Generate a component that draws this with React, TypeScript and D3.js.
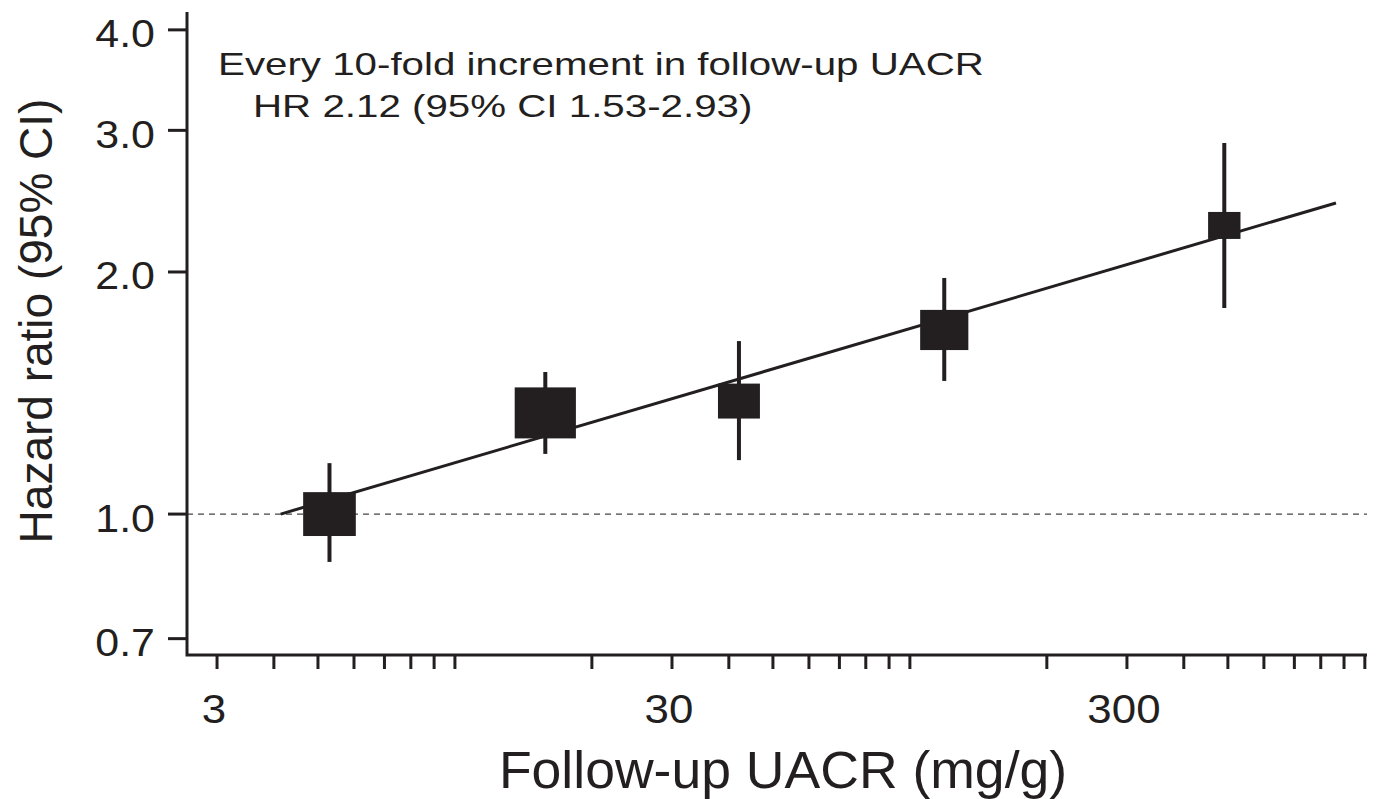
import * as d3 from "d3";

// quintile points
const uacr = [5.3, 15.8, 42.1, 119, 491];
const hazard = [1.0, 1.336, 1.382, 1.694, 2.285];
const ciLow = [0.872, 1.188, 1.167, 1.464, 1.804];
const ciHigh = [1.157, 1.502, 1.641, 1.966, 2.893];
const weight = [0.74, 1.0, 0.47, 0.62, 0.28];

// fitted line ends
const fitUacr = [4.14, 864];
const fitHazard = [1.0, 2.437];

const yTicks = [0.7, 1.0, 2.0, 3.0, 4.0];
const xTickLabels = [3, 30, 300];

const note1 = "Every 10-fold increment in follow-up UACR";
const note2 = "HR 2.12 (95% CI 1.53-2.93)";
const xTitle = "Follow-up UACR (mg/g)";
const yTitle = "Hazard ratio (95% CI)";

const W = 1377;
const H = 799;
const ink = "#231f20";
const font = "'Liberation Sans', Arial, Helvetica, sans-serif";

export default function App() {
  const left = 187, right = 1367, top = 12, bottom = 655;

  const x = d3.scaleLog().domain([2.59, 1011]).range([188, right]);
  const y = d3.scaleLog().domain([0.668, 4.21]).range([bottom, top]);
  const size = d3.scaleSqrt().domain([0, 1]).range([0, 51]);

  const xMinor = x.ticks();
  const fit = d3.line<number>()
    .x((d) => x(fitUacr[d]))
    .y((d) => y(fitHazard[d]));

  return (
    <div style={{ position: "absolute", left: 0, top: 0 }}>
      <svg width={W} height={H} style={{ display: "block", background: "#fff" }}>
        {/* reference line at HR 1 */}
        <line x1={left} x2={right} y1={y(1)} y2={y(1)}
          stroke="#444" strokeWidth={1.3} strokeDasharray="6,5" />

        {/* axes */}
        <path d={`M${left},${top}V${bottom}H${right}`} fill="none" stroke={ink} strokeWidth={3} />
        {yTicks.map((t) => (
          <g key={t}>
            <line x1={left - 19} x2={left} y1={y(t)} y2={y(t)} stroke={ink} strokeWidth={3} />
            <text transform={`translate(155,${y(t) + 17.5}) scale(1.13,1)`} textAnchor="end"
              fontFamily={font} fontSize={38} fill={ink}>{t.toFixed(1)}</text>
          </g>
        ))}
        {xMinor.map((t, i) => (
          <line key={i} x1={x(t)} x2={x(t)} y1={bottom} y2={bottom + 14} stroke={ink} strokeWidth={3} />
        ))}
        {xTickLabels.map((t) => (
          <text key={t} transform={`translate(${x(t) - 3},723) scale(1.07,1)`} textAnchor="middle"
            fontFamily={font} fontSize={41} fill={ink}>{t}</text>
        ))}

        <text transform="translate(783,788) scale(1.05,1)" textAnchor="middle"
          fontFamily={font} fontSize={51} fill={ink}>{xTitle}</text>
        <text transform="translate(52,321) rotate(-90)" textAnchor="middle"
          fontFamily={font} fontSize={46} fill={ink}>{yTitle}</text>

        <text transform="translate(218,75) scale(1.26,1)" fontFamily={font} fontSize={32} fill={ink}>{note1}</text>
        <text transform="translate(253,117) scale(1.26,1)" fontFamily={font} fontSize={32} fill={ink}>{note2}</text>

        {/* fitted line */}
        <path d={fit([0, 1]) || ""} fill="none" stroke={ink} strokeWidth={3} />

        {/* CI bars and weighted squares */}
        {uacr.map((u, i) => {
          const h = size(weight[i]);
          const w = h * 1.2;
          return (
            <g key={i}>
              <line x1={x(u)} x2={x(u)} y1={y(ciLow[i])} y2={y(ciHigh[i])} stroke={ink} strokeWidth={4} />
              <rect x={x(u) - w / 2} y={y(hazard[i]) - h / 2} width={w} height={h} fill={ink} />
            </g>
          );
        })}
      </svg>
    </div>
  );
}
